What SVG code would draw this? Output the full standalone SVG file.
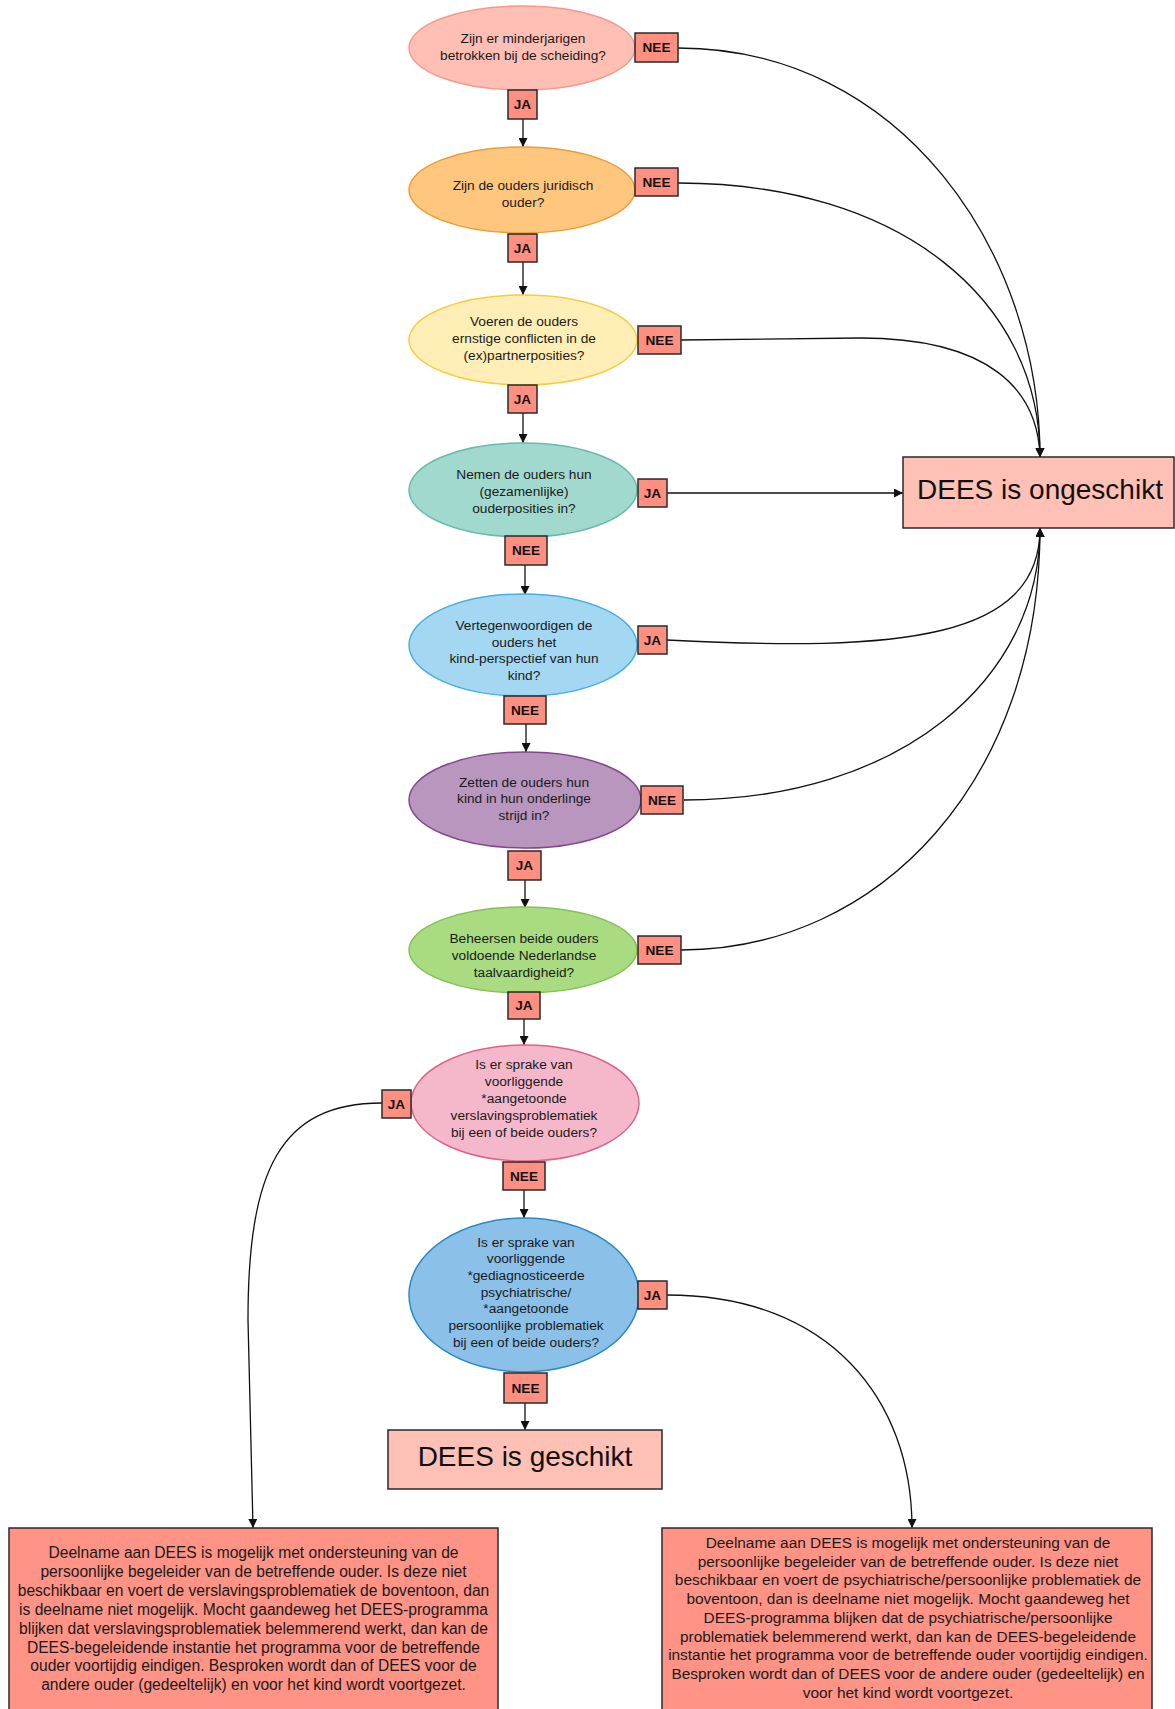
<svg xmlns="http://www.w3.org/2000/svg" width="1175" height="1709" viewBox="0 0 1175 1709">
<style>
.q{font-family:"Liberation Sans",Arial,sans-serif;font-size:13.7px;fill:#1a1a1a;text-anchor:middle}
.lb rect{fill:#FF8F80;stroke:#2a2a2a;stroke-width:1.5}
.lb text{font-family:"Liberation Sans",Arial,sans-serif;font-size:13.6px;font-weight:bold;fill:#111;text-anchor:middle}
.big{font-family:"Liberation Sans",Arial,sans-serif;font-size:28px;fill:#111;text-anchor:middle}
.res{fill:#FFC0B5;stroke:#2a2a2a;stroke-width:1.5}
.note{fill:#FF9385;stroke:#2a2a2a;stroke-width:1.5}
.nt{font-family:"Liberation Sans",Arial,sans-serif;font-size:15.6px;fill:#1a1a1a;text-anchor:middle}
.nt2{font-family:"Liberation Sans",Arial,sans-serif;font-size:15.4px;fill:#1a1a1a;text-anchor:middle}
.c{fill:none;stroke:#111;stroke-width:1.3;marker-end:url(#ah)}
.e{stroke-width:1.5}
</style>
<defs>
<marker id="ah" viewBox="0 0 10 10" refX="10" refY="5" markerWidth="9" markerHeight="9" markerUnits="userSpaceOnUse" orient="auto">
<path d="M0,0 L10,5 L0,10 z" fill="#111"/>
</marker>
</defs>
<rect width="1175" height="1709" fill="#fff"/>

<g id="connectors">
<path class="c" d="M523,119 L523,147"/>
<path class="c" d="M523,262 L523,295"/>
<path class="c" d="M523,413 L523,443"/>
<path class="c" d="M525,565 L525,595"/>
<path class="c" d="M526,724 L526,752"/>
<path class="c" d="M525,880 L525,908"/>
<path class="c" d="M524,1019 L524,1045"/>
<path class="c" d="M524,1190 L524,1218"/>
<path class="c" d="M525,1403 L525,1430"/>
<path class="c" d="M678,48 C900,48 1040,250 1040,457"/>
<path class="c" d="M678,183 C900,183 1040,300 1040,457"/>
<path class="c" d="M681,340 L860,338 C990,338 1038,390 1040,457"/>
<path class="c" d="M667,493 L903,493"/>
<path class="c" d="M667,640 C900,652 1040,640 1040,528"/>
<path class="c" d="M684,800 C900,800 1040,680 1040,528"/>
<path class="c" d="M681,950 C880,950 1040,780 1040,528"/>
<path class="c" d="M382,1103 C280,1103 248,1170 248,1320 L253,1528"/>
<path class="c" d="M667,1295 C830,1295 912,1400 912,1528"/>
</g>

<g id="q1"><ellipse class="e" cx="522" cy="48" rx="113" ry="42" fill="#FFBFB5" stroke="#F7998C"/>
<text class="q" x="523" y="43">Zijn er minderjarigen</text><text class="q" x="523" y="60">betrokken bij de scheiding?</text></g>

<g id="q2"><ellipse class="e" cx="522" cy="190" rx="113" ry="43" fill="#FFC77D" stroke="#EE9B3A"/>
<text class="q" x="523" y="190">Zijn de ouders juridisch</text><text class="q" x="523" y="207">ouder?</text></g>

<g id="q3"><ellipse class="e" cx="523" cy="340" rx="114" ry="45" fill="#FFEEB5" stroke="#F9CB45"/>
<text class="q" x="524" y="326">Voeren de ouders</text><text class="q" x="524" y="343">ernstige conflicten in de</text><text class="q" x="524" y="360">(ex)partnerposities?</text></g>

<g id="q4"><ellipse class="e" cx="523" cy="490" rx="114" ry="47" fill="#A2D9CE" stroke="#68BBAA"/>
<text class="q" x="524" y="479">Nemen de ouders hun</text><text class="q" x="524" y="496">(gezamenlijke)</text><text class="q" x="524" y="513">ouderposities in?</text></g>

<g id="q5"><ellipse class="e" cx="523" cy="645" rx="114" ry="51" fill="#A3D7F2" stroke="#4AAEE0"/>
<text class="q" x="524" y="630">Vertegenwoordigen de</text><text class="q" x="524" y="647">ouders het</text><text class="q" x="524" y="663">kind-perspectief van hun</text><text class="q" x="524" y="680">kind?</text></g>

<g id="q6"><ellipse class="e" cx="525" cy="800" rx="116" ry="48" fill="#B996BD" stroke="#83468F"/>
<text class="q" x="524" y="787">Zetten de ouders hun</text><text class="q" x="524" y="803">kind in hun onderlinge</text><text class="q" x="524" y="820">strijd in?</text></g>

<g id="q7"><ellipse class="e" cx="523" cy="950" rx="114" ry="43" fill="#A9DB80" stroke="#86C057"/>
<text class="q" x="524" y="943">Beheersen beide ouders</text><text class="q" x="524" y="960">voldoende Nederlandse</text><text class="q" x="524" y="977">taalvaardigheid?</text></g>

<g id="q8"><ellipse class="e" cx="525" cy="1103" rx="114" ry="58" fill="#F5B8CB" stroke="#E0628A"/>
<text class="q" x="524" y="1069">Is er sprake van</text><text class="q" x="524" y="1086">voorliggende</text><text class="q" x="524" y="1103">*aangetoonde</text><text class="q" x="524" y="1120">verslavingsproblematiek</text><text class="q" x="524" y="1137">bij een of beide ouders?</text></g>

<g id="q9"><ellipse class="e" cx="524" cy="1295" rx="115" ry="77" fill="#8BC1E8" stroke="#2A8AC6"/>
<text class="q" x="526" y="1247">Is er sprake van</text><text class="q" x="526" y="1263">voorliggende</text><text class="q" x="526" y="1280">*gediagnosticeerde</text><text class="q" x="526" y="1297">psychiatrische/</text><text class="q" x="526" y="1313">*aangetoonde</text><text class="q" x="526" y="1330">persoonlijke problematiek</text><text class="q" x="526" y="1347">bij een of beide ouders?</text></g>

<g id="ongeschikt"><rect class="res" x="903" y="457" width="271" height="71"/><text class="big" x="1040" y="499">DEES is ongeschikt</text></g>

<g id="geschikt"><rect class="res" x="388" y="1430" width="274" height="59"/><text class="big" x="525" y="1466">DEES is geschikt</text></g>

<g id="note-verslaving"><rect class="note" x="9" y="1528" width="489" height="200"/>
<text class="nt" x="253.5" y="1558">Deelname aan DEES is mogelijk met ondersteuning van de</text>
<text class="nt" x="253.5" y="1577">persoonlijke begeleider van de betreffende ouder. Is deze niet</text>
<text class="nt" x="253.5" y="1596">beschikbaar en voert de verslavingsproblematiek de boventoon, dan</text>
<text class="nt" x="253.5" y="1615">is deelname niet mogelijk. Mocht gaandeweg het DEES-programma</text>
<text class="nt" x="253.5" y="1634">blijken dat verslavingsproblematiek belemmerend werkt, dan kan de</text>
<text class="nt" x="253.5" y="1653">DEES-begeleidende instantie het programma voor de betreffende</text>
<text class="nt" x="253.5" y="1671">ouder voortijdig eindigen. Besproken wordt dan of DEES voor de</text>
<text class="nt" x="253.5" y="1690">andere ouder (gedeeltelijk) en voor het kind wordt voortgezet.</text>
</g>

<g id="note-psychiatrisch"><rect class="note" x="662" y="1528" width="490" height="200"/>
<text class="nt2" x="908" y="1548">Deelname aan DEES is mogelijk met ondersteuning van de</text>
<text class="nt2" x="908" y="1567">persoonlijke begeleider van de betreffende ouder. Is deze niet</text>
<text class="nt2" x="908" y="1585">beschikbaar en voert de psychiatrische/persoonlijke problematiek de</text>
<text class="nt2" x="908" y="1604">boventoon, dan is deelname niet mogelijk. Mocht gaandeweg het</text>
<text class="nt2" x="908" y="1623">DEES-programma blijken dat de psychiatrische/persoonlijke</text>
<text class="nt2" x="908" y="1642">problematiek belemmerend werkt, dan kan de DEES-begeleidende</text>
<text class="nt2" x="908" y="1660">instantie het programma voor de betreffende ouder voortijdig eindigen.</text>
<text class="nt2" x="908" y="1679">Besproken wordt dan of DEES voor de andere ouder (gedeeltelijk) en</text>
<text class="nt2" x="908" y="1698">voor het kind wordt voortgezet.</text>
</g>

<g id="labels" class="lb">
<g id="l1n"><rect x="635" y="33" width="43" height="29"/><text x="656.5" y="52">NEE</text></g>
<g id="l1j"><rect x="508" y="90" width="29" height="29"/><text x="522.5" y="109">JA</text></g>
<g id="l2n"><rect x="635" y="168" width="43" height="28"/><text x="656.5" y="187">NEE</text></g>
<g id="l2j"><rect x="508" y="234" width="29" height="28"/><text x="522.5" y="253">JA</text></g>
<g id="l3n"><rect x="638" y="326" width="43" height="28"/><text x="659.5" y="345">NEE</text></g>
<g id="l3j"><rect x="508" y="385" width="29" height="28"/><text x="522.5" y="404">JA</text></g>
<g id="l4j"><rect x="638" y="479" width="29" height="28"/><text x="652.5" y="498">JA</text></g>
<g id="l4n"><rect x="505" y="536" width="42" height="29"/><text x="526" y="555">NEE</text></g>
<g id="l5j"><rect x="638" y="626" width="29" height="28"/><text x="652.5" y="645">JA</text></g>
<g id="l5n"><rect x="504" y="696" width="42" height="28"/><text x="525" y="715">NEE</text></g>
<g id="l6n"><rect x="641" y="786" width="42" height="28"/><text x="662" y="805">NEE</text></g>
<g id="l6j"><rect x="508" y="851" width="33" height="29"/><text x="524.5" y="870">JA</text></g>
<g id="l7n"><rect x="638" y="936" width="43" height="28"/><text x="659.5" y="955">NEE</text></g>
<g id="l7j"><rect x="508" y="992" width="32" height="27"/><text x="524" y="1010">JA</text></g>
<g id="l8j"><rect x="382" y="1090" width="29" height="28"/><text x="396.5" y="1109">JA</text></g>
<g id="l8n"><rect x="503" y="1162" width="42" height="28"/><text x="524" y="1181">NEE</text></g>
<g id="l9j"><rect x="638" y="1281" width="29" height="28"/><text x="652.5" y="1300">JA</text></g>
<g id="l9n"><rect x="504" y="1373" width="43" height="30"/><text x="525.5" y="1393">NEE</text></g>
</g>
</svg>
